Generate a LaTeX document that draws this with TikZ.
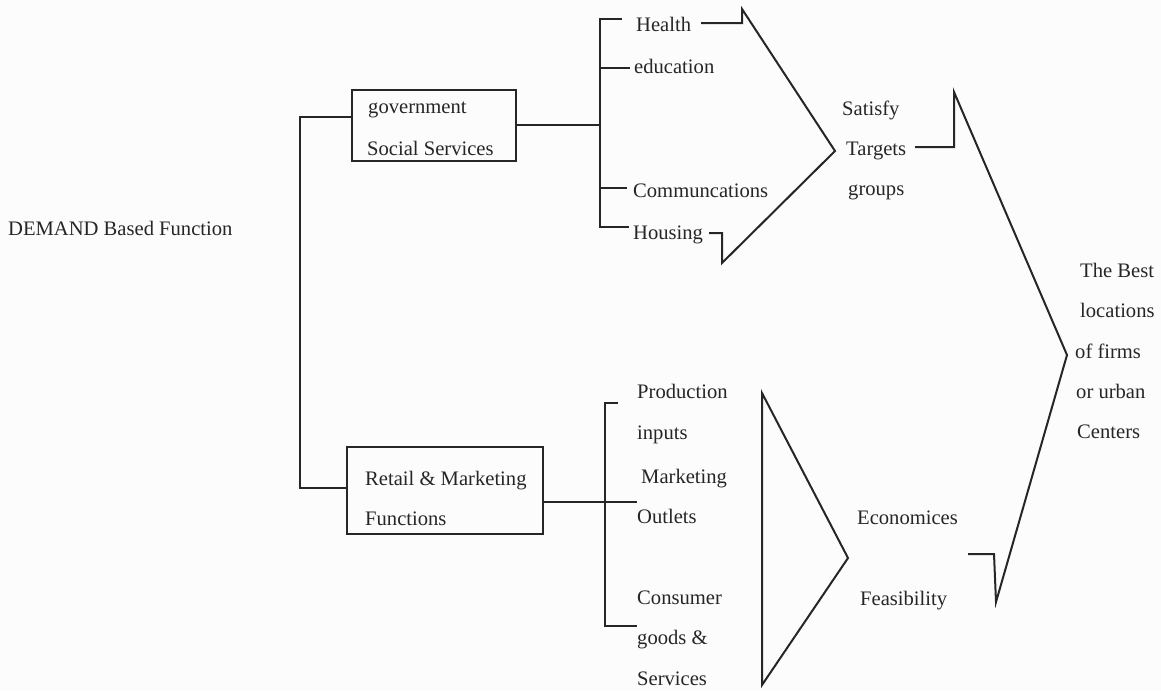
\documentclass[tikz,border=0pt]{standalone}
\usepackage{fontspec}
\setmainfont{Liberation Serif}
\definecolor{ink}{HTML}{262626}
\definecolor{paper}{HTML}{FCFCFC}
\begin{document}
\begin{tikzpicture}[x=1pt,y=-1pt,
  lbl/.style={anchor=base west, inner sep=0pt, text=ink, font=\fontsize{20.6}{24}\selectfont},
  ln/.style={draw=ink, line width=2pt, line join=miter},
  framebox/.style={draw=ink, line width=2pt, inner sep=0pt}]
\fill[paper] (0,0) rectangle (1161,691);
\useasboundingbox (0,0) rectangle (1161,691);

% left label
\node[lbl] (demand) at (8,235) {DEMAND Based Function};

% boxes
\node[framebox, minimum width=164pt, minimum height=71pt] (gov) at (434,125) {};
\node[lbl] (govA) at (368,113) {government};
\node[lbl] (govB) at (367,155) {Social Services};
\node[framebox, minimum width=196pt, minimum height=87pt] (ret) at (445,490.5) {};
\node[lbl] (retA) at (365,485) {Retail \& Marketing};
\node[lbl] (retB) at (365,525) {Functions};

% trunk connector
\coordinate (t1) at (300,117);
\coordinate (t2) at (300,488);
\draw[ln] (gov.west |- t1) -- (t1) -- (t2) -- (ret.west |- t2);

% upper bracket
\coordinate (b1top) at (600,19);
\coordinate (b1bot) at (600,227);
\coordinate (b1mid) at (600,125);
\draw[ln] (gov.east) -- (b1mid);
\draw[ln] (622,19) -- (b1top) -- (b1bot) -- (629,227);
\draw[ln] (600,68) -- (630,68);
\draw[ln] (600,188) -- (627,188);

\node[lbl] (health) at (636,31) {Health};
\node[lbl] (educ) at (634,73) {education};
\node[lbl] (comm) at (633,197) {Communcations};
\node[lbl] (hous) at (633,239) {Housing};

% upper chevron
\coordinate (c1a) at (701,23);
\coordinate (c1b) at (742,23);
\coordinate (c1c) at (742,9);
\coordinate (c1tip) at (835,151);
\coordinate (c1d) at (722,263);
\coordinate (c1e) at (722,233);
\coordinate (c1f) at (709,233);
\draw[ln] (c1a) -- (c1b) -- (c1c) -- (c1tip) -- (c1d) -- (c1e) -- (c1f);

\node[lbl] (sat) at (842,115) {Satisfy};
\node[lbl] (targ) at (846,155) {Targets};
\node[lbl] (grp) at (848,195) {groups};

% lower bracket
\coordinate (b2top) at (605,403);
\coordinate (b2bot) at (605,626);
\coordinate (b2mid) at (605,502);
\draw[ln] (ret.east |- b2mid) -- (637,502);
\draw[ln] (618,403) -- (b2top) -- (b2bot) -- (637,626);

\node[lbl] (prod) at (637,398) {Production};
\node[lbl] (inp) at (637,439) {inputs};
\node[lbl] (mark) at (641,483) {Marketing};
\node[lbl] (outl) at (637,523) {Outlets};
\node[lbl] (cons) at (637,604) {Consumer};
\node[lbl] (goods) at (637,644) {goods \&};
\node[lbl] (serv) at (637,685) {Services};

% lower triangle
\coordinate (tr1) at (762,393);
\coordinate (tr2) at (848,558);
\coordinate (tr3) at (762,685);
\draw[ln] (tr1) -- (tr2) -- (tr3) -- cycle;

\node[lbl] (econ) at (857,524) {Economices};
\node[lbl] (feas) at (860,605) {Feasibility};

% right chevron
\coordinate (r1) at (915,147);
\coordinate (r2) at (954,147);
\coordinate (r3) at (954,92);
\coordinate (rtip) at (1067,355);
\coordinate (r4) at (996,602);
\coordinate (r5) at (994,554);
\coordinate (r6) at (968,554);
\draw[ln] (r1) -- (r2) -- (r3) -- (rtip) -- (r4) -- (r5) -- (r6);

\node[lbl] (best) at (1080,277) {The Best};
\node[lbl] (loc) at (1080,317) {locations};
\node[lbl] (firms) at (1075,358) {of firms};
\node[lbl] (urban) at (1076,398) {or urban};
\node[lbl] (cent) at (1077,438) {Centers};
\end{tikzpicture}
\end{document}
